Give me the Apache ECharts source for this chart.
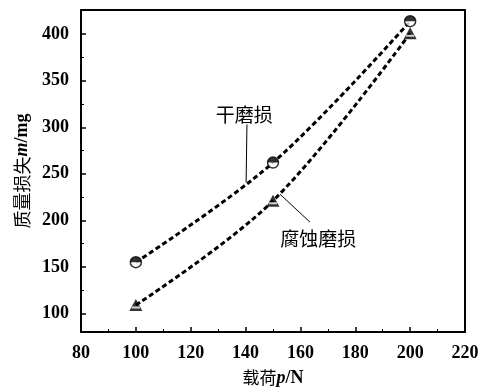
<!DOCTYPE html>
<html><head><meta charset="utf-8">
<script src="https://cdn.jsdelivr.net/npm/echarts@6/dist/echarts.min.js"></script>
<style>html,body{margin:0;padding:0;background:#fff}#c{width:502px;height:392px}</style>
</head><body><div id="c"></div>
<script>
const loads = [100, 150, 200];
const dryLoss = [155, 262, 414];
const corrLoss = [109, 221, 401];
const xTicks = [80, 100, 120, 140, 160, 180, 200, 220];
const yTicks = [100, 150, 200, 250, 300, 350, 400];
const yMinorTicks = [125, 175, 225, 275, 325, 375];
const dryLabel = '干磨损';
const corrLabel = '腐蚀磨损';
// annotation anchors in data space
const dryLeader = [[140.5, 303], [140.2, 241]];
const dryText = [139.5, 313];
const corrLeader = [[152.6, 228], [163.5, 198]];
const corrText = [166.5, 180];

const pair = (xs, ys) => xs.map((x, i) => [x, ys[i]]);
const serifBold = {fontFamily: '"Liberation Serif","Times New Roman",serif', fontWeight: 'bold', color: '#000'};
const axisLine = {onZero: false, lineStyle: {color: '#000', width: 2}};
const cjk = '"Noto Sans CJK SC"';
const option = {
  animation: false,
  grid: {left: 81, right: 37, top: 10, bottom: 59},
  xAxis: [
    {type: 'value', min: 80, max: 220, interval: 20, position: 'bottom',
      axisLine: axisLine, splitLine: {show: false},
      axisTick: {inside: true, length: 5, lineStyle: {color: '#000', width: 1.5}},
      minorTick: {show: true, splitNumber: 2, length: 3, lineStyle: {color: '#000', width: 1}},
      axisLabel: Object.assign({margin: 12, fontSize: 18,
        formatter: v => xTicks.includes(v) ? String(v) : ''}, serifBold),
      name: '{a|载荷}{b|p}{c|/N}', nameLocation: 'middle', nameGap: 37,
      nameTextStyle: {rich: {
        a: {fontFamily: cjk, fontSize: 17, color: '#000'},
        b: Object.assign({fontStyle: 'italic', fontSize: 18}, serifBold),
        c: Object.assign({fontSize: 18}, serifBold)}}},
    {type: 'value', min: 80, max: 220, position: 'top', axisLine: axisLine,
      axisTick: {show: false}, axisLabel: {show: false}, splitLine: {show: false}}
  ],
  yAxis: [
    {type: 'value', min: 80, max: 426, position: 'left',
      axisLine: axisLine, splitLine: {show: false},
      axisTick: {inside: true, length: 5, customValues: yTicks, lineStyle: {color: '#000', width: 1.5}},
      axisLabel: Object.assign({margin: 12, fontSize: 18, customValues: yTicks}, serifBold),
      name: '{a|质量损失}{b|m}{c|/mg}', nameLocation: 'middle', nameGap: 50,
      nameTextStyle: {rich: {
        a: {fontFamily: cjk, fontSize: 18, color: '#000'},
        b: Object.assign({fontStyle: 'italic', fontSize: 18}, serifBold),
        c: Object.assign({fontSize: 18}, serifBold)}}},
    {type: 'value', min: 80, max: 426, position: 'left', axisLine: {show: false},
      axisTick: {inside: true, length: 3, customValues: yMinorTicks, lineStyle: {color: '#000', width: 1}},
      axisLabel: {show: false}, splitLine: {show: false}},
    {type: 'value', min: 80, max: 426, position: 'right', axisLine: axisLine,
      axisTick: {show: false}, axisLabel: {show: false}, splitLine: {show: false}}
  ],
  series: [
    {type: 'line', data: pair(loads, dryLoss), smooth: 0.35, symbol: 'none',
      lineStyle: {color: '#000', width: 3, type: [5, 3]}, z: 2,
      markLine: {silent: true, symbol: 'none', label: {show: false},
        lineStyle: {color: '#000', width: 1, type: 'solid'},
        data: [[{coord: dryLeader[0]}, {coord: dryLeader[1]}], [{coord: corrLeader[0]}, {coord: corrLeader[1]}]]},
      markPoint: {silent: true, symbolSize: 0,
        data: [
          {coord: dryText, label: {show: true, formatter: dryLabel, fontFamily: cjk, fontSize: 19, color: '#000', position: 'inside'}},
          {coord: corrText, label: {show: true, formatter: corrLabel, fontFamily: cjk, fontSize: 19, color: '#000', position: 'inside'}}
        ]}},
    {type: 'line', data: pair(loads, corrLoss), smooth: 0.35, symbol: 'none',
      lineStyle: {color: '#000', width: 3, type: [5, 3]}, z: 2},
    {type: 'scatter', data: pair(loads, dryLoss), symbol: 'circle', symbolSize: 11,
      itemStyle: {color: '#fff', borderColor: '#000', borderWidth: 1.5}, z: 5},
    {type: 'scatter', data: pair(loads, dryLoss), symbol: 'path://M0,5 A5,5 0 0 1 10,5 Z',
      symbolSize: [11, 5.5], symbolOffset: [0, -2.75], itemStyle: {color: '#000'}, z: 6},
    {type: 'scatter', data: pair(loads, corrLoss), symbol: 'triangle', symbolSize: [13, 12],
      itemStyle: {color: '#000'}, z: 5},
    {type: 'scatter', data: pair(loads, corrLoss), symbol: 'rect', symbolSize: [8, 2], symbolOffset: [0, 2.5],
      itemStyle: {color: '#fff'}, z: 6}
  ]
};
const chart = echarts.init(document.getElementById('c'), null, {renderer: 'canvas'});
chart.setOption(option);
</script></body></html>
